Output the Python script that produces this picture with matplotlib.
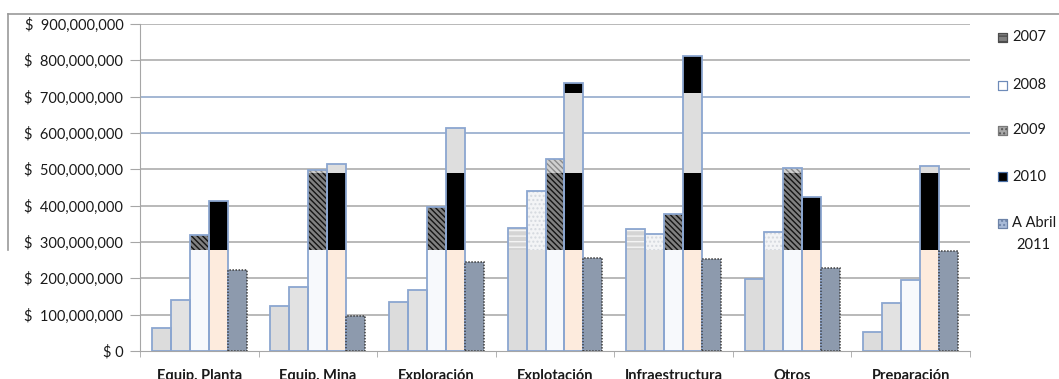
import matplotlib.pyplot as plt
from matplotlib.patches import Rectangle
from matplotlib.lines import Line2D
import numpy as np

plt.rcParams['font.family'] = ['Lato', 'DejaVu Sans']
plt.rcParams['hatch.linewidth'] = 1.0

categories = ["Equip. Planta", "Equip. Mina", "Exploración", "Explotación",
              "Infraestructura", "Otros", "Preparación"]
series = ["2007", "2008", "2009", "2010", "A Abril\n2011"]

# millones de pesos
v2007 = [63, 125, 136, 338, 335, 198, 51]
v2008 = [140, 177, 168, 441, 322, 327, 131]
v2009 = [318, 498, 395, 529, 377, 505, 196]
v2010 = [414, 515, 613, 737, 811, 425, 510]
v2011 = [223, 96, 246, 257, 253, 229, 275]
values = [v2007, v2008, v2009, v2010, v2011]

yticks = [0, 100, 200, 300, 400, 500, 600, 700, 800, 900]

# horizontal bands, each with its own look per series (face, hatch, hatch colour)
bands = [0, 278, 490, 710, 1000]
band_styles = [
    [("#dcdcdc", None, None), ("#e2e2e2", None, None), ("#f7f9fc", None, None),
     ("#fdebdd", None, None), ("#8d9aad", None, None)],
    [("#d4d4d4", "---", "#f4f4f4"), ("#f3f4f6", "....", "#d5d9df"),
     ("#808080", "\\\\\\\\\\\\", "#141414"), ("#000000", None, None), ("#8d9aad", None, None)],
    [("#dedede", None, None), ("#f3f4f6", None, None),
     ("#d0d0d0", "\\\\\\\\\\\\", "#8a8a8a"), ("#dedede", None, None), ("#8d9aad", None, None)],
    [("#000000", None, None), ("#000000", None, None), ("#000000", None, None),
     ("#000000", None, None), ("#8d9aad", None, None)],
]

fig = plt.figure(figsize=(10.59, 3.79), dpi=100)
ax = fig.add_axes([140 / 1059, 28 / 379, 830 / 1059, 327 / 379])

x = np.arange(len(categories))
w = 0.16
scale = 1e6

for i, vals in enumerate(values):
    xs = x + (i - 2) * w
    vals = np.array(vals, dtype=float)
    for b in range(len(bands) - 1):
        lo, hi = bands[b], bands[b + 1]
        h = np.clip(vals, lo, hi) - lo
        face, hatch, hcol = band_styles[b][i]
        ax.bar(xs, h * scale, w, bottom=lo * scale, color=face, hatch=hatch,
               edgecolor=hcol if hatch else face, linewidth=0, zorder=2)
    if i == 4:
        ax.bar(xs, vals * scale, w, fill=False, edgecolor="#3d3d3d",
               linewidth=1.1, linestyle=(0, (1, 1)), zorder=3)
    else:
        ax.bar(xs, vals * scale, w, fill=False, edgecolor="#8ba6d0",
               linewidth=1.3, zorder=3)

# grid: the 600M and 700M lines are bluish
for t in yticks[1:]:
    col = "#8aa3c8" if t in (600, 700) else "#a6a6a6"
    ax.axhline(t * scale, color=col, linewidth=1.1, zorder=1)

ax.set_ylim(0, 900 * scale)
ax.set_xlim(-0.5, len(categories) - 0.5)
ax.set_yticks([t * scale for t in yticks])
ax.set_yticklabels(["$ 0" if t == 0 else "$  {:,}".format(t * 1000000) for t in yticks],
                   fontsize=10.5, color="#1a1a1a")
ax.set_xticks(x)
ax.set_xticklabels(categories, fontsize=10.5, fontweight="bold", color="#1a1a1a")
ax.set_xticks(np.arange(len(categories) + 1) - 0.5, minor=True)
ax.tick_params(axis="x", which="major", length=0, pad=13)
ax.tick_params(axis="x", which="minor", length=4, color="#a6a6a6", direction="out")
ax.tick_params(axis="y", length=7, color="#a6a6a6", pad=5)

for s in ("top", "right"):
    ax.spines[s].set_visible(False)
ax.spines["left"].set_color("#a6a6a6")
ax.spines["bottom"].set_color("#a6a6a6")

# chart frame
fig.add_artist(Line2D([8 / 1059, 1], [1 - 14 / 379] * 2, color="#9a9a9a", lw=1.2))
fig.add_artist(Line2D([8 / 1059] * 2, [1 - 14 / 379, 1 - 250 / 379], color="#9a9a9a", lw=1.2))

# legend
legend_style = [("#7f7f7f", "---", "#4d4d4d", "#4d4d4d"),
                ("#ffffff", None, None, "#6e8bb9"),
                ("#a8a8a8", "....", "#555555", "#7a7a7a"),
                ("#000000", None, None, "#4a6fa5"),
                ("#a9bbd8", "....", "#6d83a8", "#6d83a8")]
legend_y = [37, 85, 130, 177, 223]
for (face, hatch, hcol, ecol), lab, yy in zip(legend_style, series, legend_y):
    fig.add_artist(Rectangle(((998) / 1059, 1 - (yy + 4.5) / 379), 9 / 1059, 9 / 379,
                             facecolor=face, hatch=hatch, edgecolor=hcol if hatch else ecol,
                             linewidth=0.8, transform=fig.transFigure))
    fig.add_artist(Rectangle(((998) / 1059, 1 - (yy + 4.5) / 379), 9 / 1059, 9 / 379,
                             fill=False, edgecolor=ecol, linewidth=0.8,
                             transform=fig.transFigure))
    first, *rest = lab.split("\n")
    fig.text(1012 / 1059, 1 - yy / 379, first, fontsize=10.5, va="center", color="#1a1a1a")
    if rest:
        fig.text(1016 / 1059, 1 - (yy + 22) / 379, rest[0], fontsize=10.5, va="center",
                 color="#1a1a1a")

fig.savefig("out.png", dpi=100)
